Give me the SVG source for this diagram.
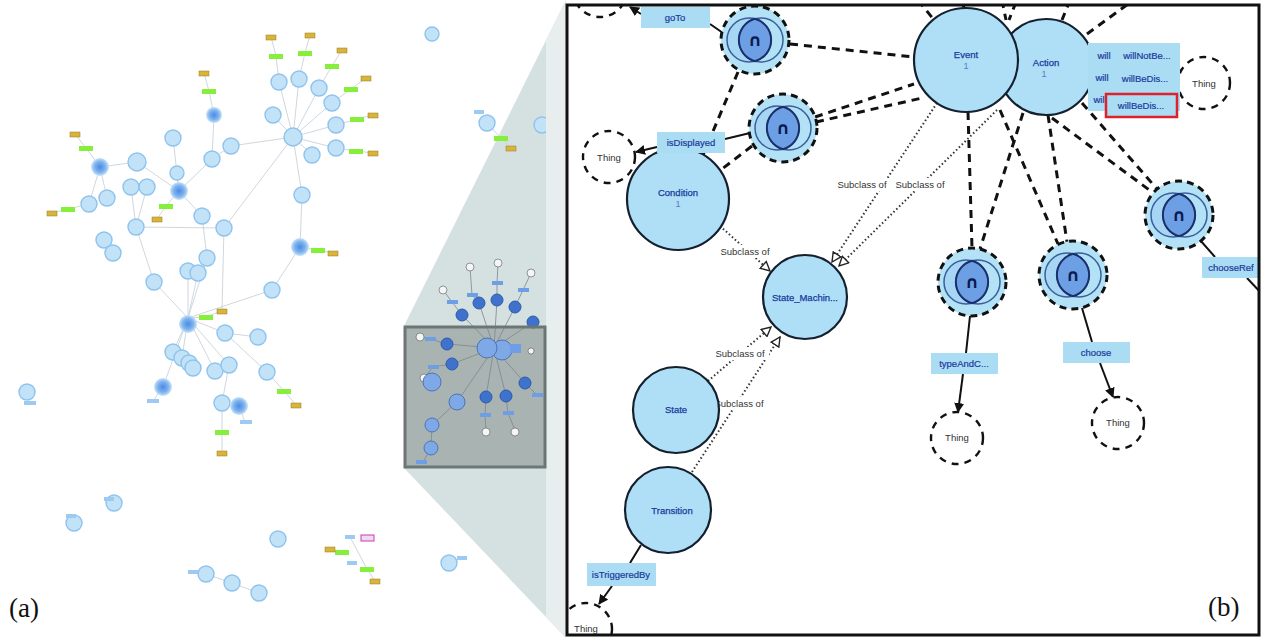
<svg xmlns="http://www.w3.org/2000/svg" width="1262" height="638" viewBox="0 0 1262 638">
<style>
.lc{fill:#c2e2f8;stroke:#8fc3ee;stroke-width:1.4}
.dc{fill:url(#glow);stroke:none}
.gl{fill:#86ef3c}
.gd{fill:#d8b43a;stroke:#9a7a20;stroke-width:.5}
.bl{fill:#9ccaf2}
.le{stroke:#c9d2da;stroke-width:.9;fill:none}
.mn{fill:#7fa8e6;stroke:#4c74b6;stroke-width:1}
.mi{fill:#3f72cc;stroke:#2d5aa8;stroke-width:1}
.ml{fill:#6e9fe6}
.mt{fill:#f4f6f6;stroke:#555;stroke-width:.6}
.me{stroke:#7d878c;stroke-width:.8;fill:none}
.cls{fill:#aedff7;stroke:#14202e;stroke-width:2.2}
.ct{font-family:"Liberation Sans",Arial,sans-serif;font-size:9.5px;fill:#1a3a9c;stroke:#1a3a9c;stroke-width:.25;text-anchor:middle}
.cn{font-family:"Liberation Sans",Arial,sans-serif;font-size:9px;fill:#5a7cc0;text-anchor:middle}
.pl{fill:#aadcf4}
.pt{font-family:"Liberation Sans",Arial,sans-serif;font-size:9.5px;fill:#1b3a9c;stroke:#1b3a9c;stroke-width:.2;text-anchor:middle}
.th{fill:#fff;stroke:#111;stroke-width:2.4;stroke-dasharray:7 6}
.tt{font-family:"Liberation Sans",Arial,sans-serif;font-size:9.5px;fill:#333;text-anchor:middle}
.da{stroke:#111;stroke-width:3;stroke-dasharray:8 6;fill:none}
.so{stroke:#111;stroke-width:2;fill:none}
.dt{stroke:#333;stroke-width:2;stroke-dasharray:1.5 2.5;fill:none}
.st{font-family:"Liberation Sans",Arial,sans-serif;font-size:9.5px;fill:#333;text-anchor:middle}
.big{font-family:"Liberation Serif","Times New Roman",serif;font-size:27px;fill:#111}
</style>
<defs>
<radialGradient id="glow"><stop offset="0" stop-color="#4a8be6"/><stop offset=".6" stop-color="#7fb3ee"/><stop offset="1" stop-color="#c8e4f9"/></radialGradient>
<marker id="ar" viewBox="0 0 10 10" refX="9" refY="5" markerWidth="10" markerHeight="10" markerUnits="userSpaceOnUse" orient="auto"><path d="M0,0L10,5L0,10z" fill="#111"/></marker>
<marker id="sub" viewBox="0 0 12 12" refX="11" refY="6" markerWidth="11" markerHeight="11" markerUnits="userSpaceOnUse" orient="auto"><path d="M1,1L11,6L1,11z" fill="#fff" stroke="#222" stroke-width="1.5"/></marker>
<clipPath id="pane"><rect x="567" y="5" width="692" height="630"/></clipPath>
<g id="inter">
<circle r="34" fill="#b3e1f6" stroke="#111" stroke-width="3" stroke-dasharray="7 5"/>
<circle cx="-6" r="22" fill="#a6d6f4" stroke="#3a5f9c" stroke-width="1.5"/>
<circle cx="6" r="22" fill="none" stroke="#3a5f9c" stroke-width="1.5"/>
<path d="M0,-21.2A22,22 0 0 1 0,21.2A22,22 0 0 1 0,-21.2z" fill="#6d9fe5" stroke="#1b2f6a" stroke-width="2"/>
<text y="6" font-family="DejaVu Sans,sans-serif" font-size="17" font-weight="bold" fill="#0a1a50" text-anchor="middle">∩</text>
</g>
</defs>
<rect width="1262" height="638" fill="#fff"/>

<!-- zoom wedge -->
<polygon points="404,326 566,0 566,638 404,468" fill="#d5e1e1"/>

<!-- panel (a) overview graph -->
<g id="overview">
<g id="a-edges">
<path class="le" d="M293,137L279,82M293,137L299,79M293,137L319,88M293,137L332,103M293,137L336,125M293,137L336,148M293,137L312,155M293,137L273,115M293,137L231,146M293,137L302,195M302,195L300,247L272,290L188,318M279,82L276,56L271,37M299,79L305,53L310,35M319,88L332,66L342,50M332,103L351,89L366,78M336,125L357,119L373,115M336,148L356,151L373,153M214,115L209,91L204,73M214,115L212,159L179,191M173,138L179,191M177,173L179,191M231,146L212,159M137,162L100,167L86,148L75,134M100,167L89,204L68,209L52,213M100,167L107,198M137,162L179,191M131,187L136,227M147,187L136,227M136,227L224,228M136,227L154,282L188,318M224,228L293,137M224,228L222,310M179,191L166,206L157,219M179,191L202,216L207,258M300,247L318,250L333,253M188,318L173,352M188,318L182,358M188,318L225,333M188,318L206,317L221,311M225,333L258,337M188,318L215,371M188,318L229,365M229,365L222,403L222,432L222,453M225,333L267,372L284,391L296,405M188,318L163,387L153,401M239,406L245,422M188,271L188,318M198,273L188,318M207,258L188,318M487,123L501,138L511,148M206,574L232,583L259,593M342,552L330,549M350,537L358,552L367,569L375,581"/>
</g>
<circle class="lc" cx="279" cy="82" r="8"/><circle class="lc" cx="299" cy="79" r="8"/><circle class="lc" cx="319" cy="88" r="8"/>
<circle class="lc" cx="332" cy="103" r="8"/><circle class="lc" cx="336" cy="125" r="8"/><circle class="lc" cx="336" cy="148" r="8"/>
<circle class="lc" cx="312" cy="155" r="8"/><circle class="lc" cx="273" cy="115" r="8"/><circle class="lc" cx="293" cy="137" r="9"/>
<circle class="lc" cx="231" cy="146" r="8"/><circle class="lc" cx="212" cy="159" r="8"/><circle class="lc" cx="173" cy="138" r="8"/>
<circle class="lc" cx="137" cy="162" r="9"/><circle class="lc" cx="131" cy="187" r="8"/><circle class="lc" cx="147" cy="187" r="8"/>
<circle class="lc" cx="177" cy="173" r="7"/><circle class="lc" cx="107" cy="198" r="8"/><circle class="lc" cx="89" cy="204" r="8"/>
<circle class="lc" cx="136" cy="227" r="8"/><circle class="lc" cx="202" cy="216" r="8"/><circle class="lc" cx="224" cy="228" r="8"/>
<circle class="lc" cx="302" cy="195" r="8"/><circle class="lc" cx="104" cy="240" r="8"/><circle class="lc" cx="113" cy="253" r="8"/>
<circle class="lc" cx="154" cy="282" r="8"/><circle class="lc" cx="188" cy="271" r="8"/><circle class="lc" cx="198" cy="273" r="8"/>
<circle class="lc" cx="207" cy="258" r="8"/><circle class="lc" cx="272" cy="290" r="8"/>
<circle class="lc" cx="225" cy="333" r="8"/><circle class="lc" cx="258" cy="337" r="8"/><circle class="lc" cx="173" cy="352" r="8"/>
<circle class="lc" cx="182" cy="358" r="8"/><circle class="lc" cx="189" cy="363" r="8"/><circle class="lc" cx="193" cy="368" r="8"/>
<circle class="lc" cx="215" cy="371" r="8"/><circle class="lc" cx="229" cy="365" r="8"/><circle class="lc" cx="267" cy="372" r="8"/>
<circle class="lc" cx="222" cy="403" r="8"/><circle class="lc" cx="27" cy="392" r="8"/><circle class="lc" cx="114" cy="503" r="8"/>
<circle class="lc" cx="74" cy="523" r="8"/><circle class="lc" cx="278" cy="539" r="8"/><circle class="lc" cx="206" cy="574" r="8"/>
<circle class="lc" cx="232" cy="583" r="8"/><circle class="lc" cx="259" cy="593" r="8"/><circle class="lc" cx="432" cy="34" r="7"/>
<circle class="lc" cx="487" cy="123" r="8"/><circle class="lc" cx="449" cy="563" r="8"/><circle class="lc" cx="542" cy="125" r="8"/>
<circle class="dc" cx="179" cy="191" r="9"/><circle class="dc" cx="100" cy="167" r="9"/><circle class="dc" cx="214" cy="115" r="8"/>
<circle class="dc" cx="300" cy="247" r="9"/><circle class="dc" cx="188" cy="324" r="9"/><circle class="dc" cx="163" cy="387" r="9"/>
<circle class="dc" cx="239" cy="406" r="9"/>
<rect class="gl" x="269" y="54" width="14" height="5"/><rect class="gl" x="298" y="51" width="14" height="5"/><rect class="gl" x="325" y="64" width="14" height="5"/>
<rect class="gl" x="344" y="87" width="14" height="5"/><rect class="gl" x="350" y="117" width="14" height="5"/><rect class="gl" x="349" y="149" width="14" height="5"/>
<rect class="gl" x="202" y="89" width="14" height="5"/><rect class="gl" x="79" y="146" width="14" height="5"/><rect class="gl" x="61" y="207" width="14" height="5"/>
<rect class="gl" x="159" y="204" width="14" height="5"/><rect class="gl" x="311" y="248" width="14" height="5"/><rect class="gl" x="199" y="315" width="14" height="5"/>
<rect class="gl" x="277" y="389" width="14" height="5"/><rect class="gl" x="215" y="430" width="14" height="5"/><rect class="gl" x="335" y="550" width="14" height="5"/>
<rect class="gl" x="360" y="567" width="14" height="5"/><rect class="gl" x="494" y="136" width="14" height="5"/>
<rect class="gd" x="266" y="35" width="10" height="5"/><rect class="gd" x="305" y="33" width="10" height="5"/><rect class="gd" x="337" y="48" width="10" height="5"/>
<rect class="gd" x="361" y="76" width="10" height="5"/><rect class="gd" x="368" y="113" width="10" height="5"/><rect class="gd" x="368" y="151" width="10" height="5"/>
<rect class="gd" x="199" y="71" width="10" height="5"/><rect class="gd" x="70" y="132" width="10" height="5"/><rect class="gd" x="47" y="211" width="10" height="5"/>
<rect class="gd" x="152" y="217" width="10" height="5"/><rect class="gd" x="328" y="251" width="10" height="5"/><rect class="gd" x="217" y="309" width="10" height="5"/>
<rect class="gd" x="291" y="403" width="10" height="5"/><rect class="gd" x="217" y="451" width="10" height="5"/><rect class="gd" x="325" y="547" width="10" height="5"/>
<rect class="gd" x="370" y="579" width="10" height="5"/><rect class="gd" x="506" y="146" width="10" height="5"/>
<rect class="bl" x="147" y="399" width="12" height="4"/><rect class="bl" x="24" y="401" width="12" height="4"/><rect class="bl" x="240" y="420" width="12" height="4"/>
<rect class="bl" x="345" y="535" width="10" height="4"/><rect class="bl" x="347" y="561" width="10" height="4"/><rect class="bl" x="474" y="110" width="10" height="4"/>
<rect class="bl" x="104" y="497" width="10" height="4"/><rect class="bl" x="66" y="514" width="10" height="4"/><rect class="bl" x="457" y="556" width="10" height="4"/>
<rect class="bl" x="188" y="570" width="10" height="4"/>
<rect x="361" y="535" width="13" height="6" fill="#f2d8f0" stroke="#c040b0" stroke-width="1"/>
</g>

<!-- light strip -->
<polygon points="546,40 566,0 566,638 546,617" fill="#e8eded"/>

<!-- zoom box with mini graph -->
<g id="zoom-box">
<rect x="404" y="326" width="142" height="142" fill="#a9b4b2"/>
<path class="me" d="M494,348L462,315L452,302L443,290M494,348L479,303L472,295L470,267M494,348L497,300L497,283L498,263M494,348L515,307L523,290L531,273M494,348L533,322M494,348L447,344L430,339L420,337M494,348L452,364L433,367L424,378M494,348L457,402M494,348L486,397L485,415L486,430M494,348L506,396L508,413L515,430M494,348L525,383L537,395M457,402L432,425M432,425L431,448M431,448L423,462"/>
<circle class="mt" cx="443" cy="290" r="4"/><circle class="mt" cx="470" cy="267" r="4"/><circle class="mt" cx="498" cy="263" r="4"/><circle class="mt" cx="531" cy="273" r="4"/>
<circle class="mt" cx="420" cy="337" r="4"/><circle class="mt" cx="424" cy="378" r="4"/><circle class="mt" cx="486" cy="432" r="4"/><circle class="mt" cx="515" cy="432" r="4"/><circle class="mt" cx="531" cy="351" r="3"/>
<circle class="mi" cx="462" cy="315" r="6"/><circle class="mi" cx="479" cy="303" r="6"/><circle class="mi" cx="497" cy="300" r="6"/><circle class="mi" cx="515" cy="307" r="6"/><circle class="mi" cx="533" cy="322" r="6"/>
<circle class="mi" cx="447" cy="344" r="6"/><circle class="mi" cx="452" cy="364" r="6"/><circle class="mi" cx="486" cy="397" r="6"/><circle class="mi" cx="506" cy="396" r="6"/><circle class="mi" cx="525" cy="383" r="6"/>
<circle class="mn" cx="502" cy="350" r="10"/><circle class="mn" cx="487" cy="348" r="10"/>
<circle class="mn" cx="432" cy="382" r="9"/><circle class="mn" cx="457" cy="402" r="8"/><circle class="mn" cx="432" cy="425" r="7"/><circle class="mn" cx="431" cy="448" r="7"/>
<rect class="ml" x="447" y="300" width="11" height="4"/><rect class="ml" x="467" y="293" width="11" height="4"/><rect class="ml" x="492" y="281" width="11" height="4"/><rect class="ml" x="518" y="288" width="11" height="4"/>
<rect class="ml" x="425" y="337" width="11" height="4"/><rect class="ml" x="428" y="365" width="11" height="4"/><rect class="ml" x="480" y="413" width="11" height="4"/><rect class="ml" x="503" y="411" width="11" height="4"/>
<rect class="ml" x="532" y="393" width="11" height="4"/><rect class="ml" x="510" y="344" width="11" height="9"/><rect class="ml" x="416" y="460" width="11" height="4"/>
<rect x="405" y="327" width="140" height="140" fill="none" stroke="#6b7775" stroke-width="3"/>
</g>

<!-- panel (b) -->
<rect x="567" y="5" width="692" height="630" fill="#fff"/>
<g clip-path="url(#pane)">
<g id="connectors">
<path class="da" d="M790,44L914,57M738,72L703,155M815,117L914,84M816,122L922,98M752,146L722,169M968,112L972,248M1023,113L980,249M1000,110L1058,244M1048,115L1067,242M1052,118L1152,192M1082,103L1157,189M918,0L934,20M962,0L964,8M1002,0L1006,20M1016,2L1009,20M1070,0L1062,20M1087,34L1128,4"/>
<path class="so" d="M710,24L723,33M750,133L725,139M970,316L966,353M1082,308L1092,342M1200,240L1215,257M1247,278L1264,296M641,545L630,563M1090,58L1093,58"/>
<path class="so" d="M641,14L630,7" marker-end="url(#ar)"/>
<path class="so" d="M657,147L636,152" marker-end="url(#ar)"/>
<path class="so" d="M963,374L958,412" marker-end="url(#ar)"/>
<path class="so" d="M1100,363L1113,397" marker-end="url(#ar)"/>
<path class="so" d="M612,586L599,604" marker-end="url(#ar)"/>
<path class="so" d="M1170,62L1180,70" marker-end="url(#ar)"/>
<path class="so" d="M1170,89L1179,89" marker-end="url(#ar)"/>
<path class="dt" d="M720,226L770,271" marker-end="url(#sub)"/>
<path class="dt" d="M937,103L832,262" marker-end="url(#sub)"/>
<path class="dt" d="M997,110L839,266" marker-end="url(#sub)"/>
<path class="dt" d="M708,381L771,327" marker-end="url(#sub)"/>
<path class="dt" d="M692,472L780,337" marker-end="url(#sub)"/>
<g id="subclass-labels">
<rect x="714" y="245" width="57" height="13" fill="#fff"/><text class="st" x="745" y="255">Subclass of</text>
<rect x="836" y="178" width="54" height="13" fill="#fff"/><text class="st" x="862" y="188">Subclass of</text>
<rect x="892" y="178" width="56" height="13" fill="#fff"/><text class="st" x="920" y="188">Subclass of</text>
<rect x="712" y="347" width="57" height="13" fill="#fff"/><text class="st" x="740" y="357">Subclass of</text>
<rect x="711" y="397" width="57" height="13" fill="#fff"/><text class="st" x="739" y="407">Subclass of</text>
</g>
</g>

<g id="thing-topleft"><circle class="th" cx="600" cy="-10" r="27"/></g>
<g id="thing-isDisplayed"><circle class="th" cx="609" cy="157" r="26"/><text class="tt" x="609" y="161">Thing</text></g>
<g id="thing-action"><circle class="th" cx="1204" cy="83" r="26"/><text class="tt" x="1204" y="87">Thing</text></g>
<g id="thing-typeAndC"><circle class="th" cx="957" cy="438" r="26"/><text class="tt" x="957" y="441">Thing</text></g>
<g id="thing-choose"><circle class="th" cx="1118" cy="423" r="26"/><text class="tt" x="1118" y="426">Thing</text></g>
<g id="thing-bottom"><circle class="th" cx="586" cy="629" r="26"/><text class="tt" x="586" y="632">Thing</text></g>

<g id="intersection-1"><use href="#inter" x="755" y="40"/></g>
<g id="intersection-2"><use href="#inter" x="783" y="128"/></g>
<g id="intersection-3"><use href="#inter" x="972" y="282"/></g>
<g id="intersection-4"><use href="#inter" x="1073" y="275"/></g>
<g id="intersection-5"><use href="#inter" x="1179" y="215"/></g>

<g id="node-action"><circle class="cls" cx="1046" cy="67" r="48"/><text class="ct" x="1046" y="66">Action</text><text class="cn" x="1044" y="77">1</text></g>
<g id="node-event"><circle class="cls" cx="966" cy="60" r="52"/><text class="ct" x="966" y="58">Event</text><text class="cn" x="966" y="69">1</text></g>
<g id="node-condition"><circle class="cls" cx="678" cy="199" r="51"/><text class="ct" x="678" y="196">Condition</text><text class="cn" x="678" y="207">1</text></g>
<g id="node-statemachine"><circle class="cls" cx="805" cy="297" r="42"/><text class="ct" x="805" y="301">State_Machin...</text></g>
<g id="node-state"><circle class="cls" cx="676" cy="410" r="43"/><text class="ct" x="676" y="413">State</text></g>
<g id="node-transition"><circle class="cls" cx="668" cy="510" r="43"/><text class="ct" x="672" y="514">Transition</text></g>

<g id="label-goTo"><rect class="pl" x="641" y="7" width="69" height="21"/><text class="pt" x="675" y="21">goTo</text></g>
<g id="label-isDisplayed"><rect class="pl" x="657" y="132" width="68" height="21"/><text class="pt" x="691" y="146">isDisplayed</text></g>
<g id="label-will">
<rect class="pl" x="1088" y="43" width="92" height="68"/>
<text class="pt" x="1104" y="59">will</text><text class="pt" x="1147" y="59">willNotBe...</text>
<text class="pt" x="1102" y="81">will</text><text class="pt" x="1145" y="82">willBeDis...</text>
<text class="pt" x="1099" y="103">wil</text>
<rect x="1106" y="94" width="71" height="23" fill="#aadcf4" stroke="#e0202a" stroke-width="2.5"/>
<text class="pt" x="1141" y="109">willBeDis...</text>
</g>
<g id="label-typeAndC"><rect class="pl" x="931" y="353" width="67" height="21"/><text class="pt" x="964" y="367">typeAndC...</text></g>
<g id="label-choose"><rect class="pl" x="1063" y="342" width="67" height="21"/><text class="pt" x="1096" y="356">choose</text></g>
<g id="label-chooseRef"><rect class="pl" x="1202" y="257" width="60" height="21"/><text class="pt" x="1231" y="271">chooseRef</text></g>
<g id="label-isTriggeredBy"><rect class="pl" x="587" y="563" width="69" height="23"/><text class="pt" x="621" y="578">isTriggeredBy</text></g>
</g>
<rect x="567" y="5" width="692" height="630" fill="none" stroke="#111" stroke-width="3"/>

<text class="big" x="9" y="617">(a)</text>
<text class="big" x="1208" y="616">(b)</text>
</svg>
